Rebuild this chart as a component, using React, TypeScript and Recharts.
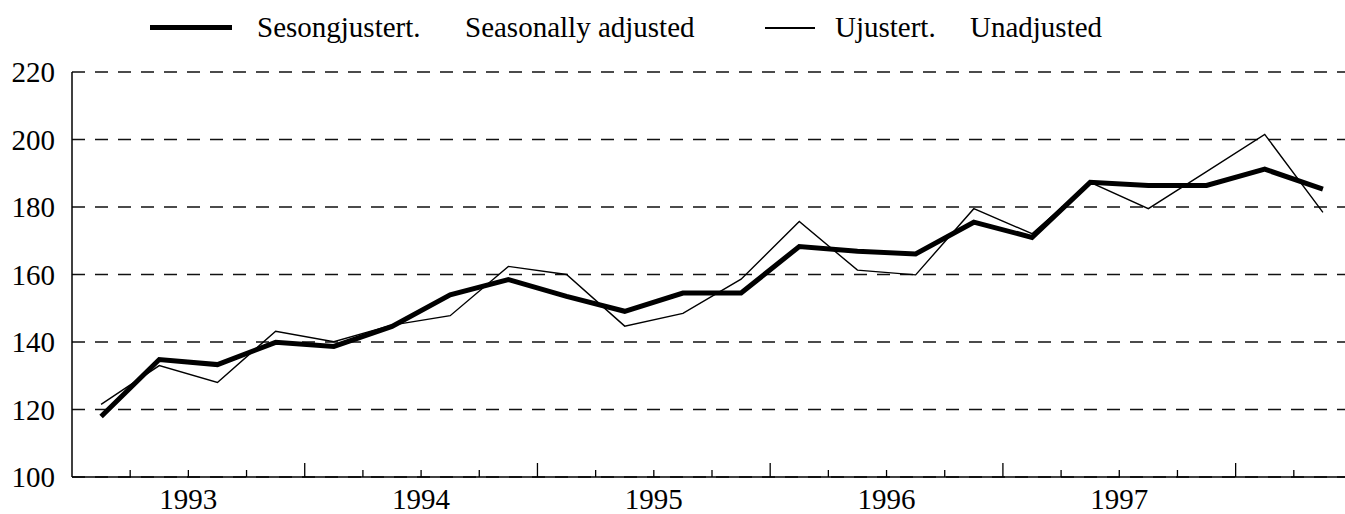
import React from "react";
import {
  LineChart,
  Line,
  XAxis,
  YAxis,
  CartesianGrid,
  Legend,
} from "recharts";

// quarterly index, 1993 Q1 - 1998 Q2
const quarters = [
  "1993K1", "1993K2", "1993K3", "1993K4",
  "1994K1", "1994K2", "1994K3", "1994K4",
  "1995K1", "1995K2", "1995K3", "1995K4",
  "1996K1", "1996K2", "1996K3", "1996K4",
  "1997K1", "1997K2", "1997K3", "1997K4",
  "1998K1", "1998K2",
];

const adjusted = [
  117.9, 134.8, 133.3, 139.9, 138.7, 144.6, 154.0, 158.5, 153.5, 149.1, 154.5,
  154.5, 168.3, 166.9, 166.1, 175.5, 171.0, 187.3, 186.4, 186.4, 191.2, 185.3,
];

const unadjusted = [
  121.5, 133.0, 128.0, 143.2, 140.1, 145.0, 147.8, 162.4, 160.0, 144.7, 148.5,
  158.6, 175.7, 161.3, 159.9, 179.5, 172.1, 187.3, 179.5, 190.5, 201.5, 178.4,
];

const years = ["1993", "1994", "1995", "1996", "1997"];
const yTicks = [100, 120, 140, 160, 180, 200, 220];
const xTicks = Array.from({ length: quarters.length + 1 }, (_, i) => i);

const FONT = "Liberation Serif, Tinos, Times New Roman, Times, DejaVu Serif, serif";

const data = quarters.map((q, i) => ({
  q,
  pos: i + 0.5,
  adjusted: adjusted[i],
  unadjusted: unadjusted[i],
}));

function QuarterTick(props: any) {
  const { x, y, payload } = props;
  const v = payload.value as number;
  if (v === 0) return null;
  const major = v % 4 === 0;
  const yearIdx = (v - 2) / 4;
  const label = Number.isInteger(yearIdx) ? years[yearIdx] : undefined;
  return (
    <g>
      <line x1={x} x2={x} y1={y} y2={y - (major ? 14 : 7)} stroke="#000" strokeWidth={1.3} />
      {label && (
        <text x={x} y={y + 32} textAnchor="middle" style={{ fontFamily: FONT }} fontSize={29} fill="#000">
          {label}
        </text>
      )}
    </g>
  );
}

function LegendContent() {
  const text: React.CSSProperties = {
    position: "absolute",
    top: 10,
    fontFamily: FONT,
    fontSize: 29,
    lineHeight: "34px",
    color: "#000",
    whiteSpace: "pre",
  };
  return (
    <div style={{ position: "relative", width: 1345, height: 50 }}>
      <div style={{ position: "absolute", left: 150, top: 25, width: 82, height: 5, background: "#000" }} />
      <span style={{ ...text, left: 257 }}>Sesongjustert.</span>
      <span style={{ ...text, left: 465 }}>Seasonally adjusted</span>
      <div style={{ position: "absolute", left: 765, top: 27, width: 50, height: 1.5, background: "#000" }} />
      <span style={{ ...text, left: 835 }}>Ujustert.</span>
      <span style={{ ...text, left: 970 }}>Unadjusted</span>
    </div>
  );
}

export default function App() {
  return (
    <div
      style={{
        position: "absolute",
        left: 0,
        top: 0,
        width: 1345,
        height: 514,
        overflow: "hidden",
        background: "#fff",
        fontFamily: FONT,
      }}
    >
      <LineChart
        width={1352}
        height={514}
        data={data}
        margin={{ top: 72, right: 0, left: 0, bottom: 0 }}
        style={{ fontFamily: FONT }}
      >
        <CartesianGrid
          vertical={false}
          stroke="#111"
          strokeWidth={1.4}
          strokeDasharray="13 10"
        />
        <XAxis
          dataKey="pos"
          type="number"
          domain={[0, quarters.length]}
          ticks={xTicks}
          interval={0}
          height={37}
          tickSize={0}
          tickMargin={0}
          tickLine={false}
          axisLine={{ stroke: "#000", strokeWidth: 1.5 }}
          tick={<QuarterTick />}
        />
        <YAxis
          domain={[100, 220]}
          ticks={yTicks}
          width={72}
          tickSize={0}
          tickMargin={17}
          tickLine={false}
          axisLine={{ stroke: "#000", strokeWidth: 1.5 }}
          tick={{ fontSize: 29, fill: "#000", style: { fontFamily: FONT } }}
        />
        <Legend
          verticalAlign="middle"
          align="center"
          wrapperStyle={{ top: 0, left: 0, width: 1345 }}
          content={<LegendContent />}
        />
        <Line
          dataKey="unadjusted"
          stroke="#000"
          strokeWidth={1.4}
          dot={false}
          isAnimationActive={false}
        />
        <Line
          dataKey="adjusted"
          stroke="#000"
          strokeWidth={5}
          dot={false}
          isAnimationActive={false}
        />
      </LineChart>
    </div>
  );
}
